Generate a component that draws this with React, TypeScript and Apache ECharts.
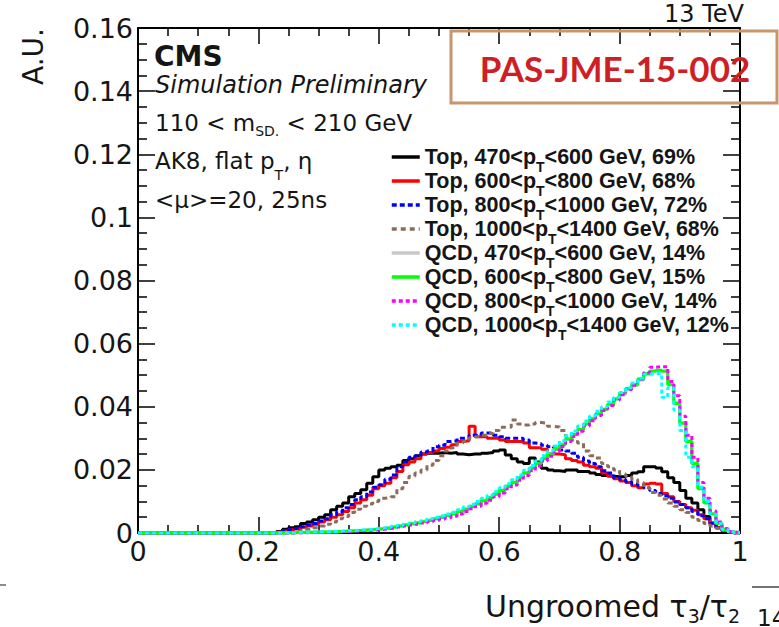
import React, { useEffect, useRef } from "react";
import * as echarts from "echarts";

// Histogram binning of tau3/tau2: 100 bins of width 0.01 on [0, 1]
const BIN_WIDTH = 0.01;
const X_MIN = 0;
const X_MAX = 1;
const Y_MIN = 0;
const Y_MAX = 0.16;

// Top jets, four pT bins
const top470 = [
  0, 0, 0, 0, 0, 0, 0, 0, 0, 0,
  0, 0, 0, 0, 0, 0, 0, 0, 0, 0,
  0, 0, 0, 0.0005, 0.0012, 0.0017, 0.002, 0.003, 0.0035, 0.0042,
  0.005, 0.0058, 0.0074, 0.0085, 0.0095, 0.0115, 0.0125, 0.0137, 0.0158, 0.0178,
  0.02, 0.0205, 0.021, 0.0215, 0.023, 0.0235, 0.0245, 0.025, 0.0253, 0.0253,
  0.0255, 0.0253, 0.0255, 0.025, 0.0248, 0.025, 0.025, 0.0253, 0.0255, 0.026,
  0.0263, 0.0247, 0.0235, 0.0225, 0.022, 0.0238, 0.0225, 0.0205, 0.02, 0.0197,
  0.0195, 0.02, 0.02, 0.0195, 0.0195, 0.019, 0.0185, 0.0182, 0.018, 0.0178,
  0.0178, 0.0182, 0.019, 0.0194, 0.021, 0.021, 0.0206, 0.0194, 0.0175, 0.016,
  0.0135, 0.011, 0.0095, 0.0074, 0.0052, 0.0032, 0.0017, 0.0006, 0.0002, 0,
];
const top600 = [
  0, 0, 0, 0, 0, 0, 0, 0, 0, 0,
  0, 0, 0, 0, 0, 0, 0, 0, 0, 0,
  0, 0, 0, 0.0003, 0.0006, 0.001, 0.0013, 0.0018, 0.0022, 0.0028,
  0.0035, 0.0042, 0.005, 0.0058, 0.0068, 0.008, 0.0095, 0.0105, 0.012, 0.014,
  0.015, 0.0158, 0.0175, 0.0195, 0.0216, 0.0225, 0.0235, 0.025, 0.0255, 0.026,
  0.0268, 0.0272, 0.028, 0.029, 0.0292, 0.0338, 0.0305, 0.0305, 0.03, 0.03,
  0.0295, 0.029, 0.029, 0.029, 0.0285, 0.027, 0.027, 0.0265, 0.025, 0.025,
  0.0248, 0.0235, 0.023, 0.0225, 0.0215, 0.021, 0.0205, 0.019, 0.018, 0.0172,
  0.0165, 0.016, 0.015, 0.0143, 0.0155, 0.0158, 0.0155, 0.0125, 0.0115, 0.01,
  0.009, 0.008, 0.0072, 0.0058, 0.0045, 0.003, 0.0017, 0.0008, 0.0003, 0,
];
const top800 = [
  0, 0, 0, 0, 0, 0, 0, 0, 0, 0,
  0, 0, 0, 0, 0, 0, 0, 0, 0, 0,
  0, 0, 0, 0.0003, 0.0006, 0.001, 0.0014, 0.002, 0.0025, 0.003,
  0.0038, 0.0045, 0.0058, 0.0068, 0.008, 0.009, 0.0105, 0.0115, 0.013, 0.0145,
  0.0153, 0.017, 0.0184, 0.021, 0.0225, 0.024, 0.0245, 0.0257, 0.026, 0.0273,
  0.0278, 0.029, 0.0292, 0.03, 0.03, 0.031, 0.031, 0.0317, 0.0317, 0.031,
  0.0305, 0.03, 0.03, 0.03, 0.0295, 0.0285, 0.0283, 0.0278, 0.0273, 0.027,
  0.0263, 0.026, 0.0253, 0.024, 0.0228, 0.022, 0.021, 0.0197, 0.019, 0.0175,
  0.017, 0.0163, 0.0155, 0.015, 0.0143, 0.0135, 0.0125, 0.0118, 0.011, 0.0098,
  0.009, 0.008, 0.0068, 0.0055, 0.0045, 0.003, 0.0018, 0.0008, 0.0003, 0,
];
const top1000 = [
  0, 0, 0, 0, 0, 0, 0, 0, 0, 0,
  0, 0, 0, 0, 0, 0, 0, 0, 0, 0,
  0, 0, 0, 0, 0, 0, 0.0005, 0.0008, 0.0012, 0.0017,
  0.0022, 0.0028, 0.0035, 0.0045, 0.0052, 0.0065, 0.0075, 0.0085, 0.0092, 0.01,
  0.011, 0.0112, 0.0115, 0.014, 0.016, 0.018, 0.019, 0.02, 0.0215, 0.023,
  0.0245, 0.026, 0.027, 0.0285, 0.029, 0.0302, 0.0305, 0.031, 0.0315, 0.0325,
  0.0335, 0.0335, 0.0358, 0.0345, 0.0342, 0.0345, 0.035, 0.0348, 0.0338, 0.0336,
  0.0325, 0.0305, 0.0295, 0.0285, 0.026, 0.0245, 0.0238, 0.022, 0.021, 0.02,
  0.0188, 0.018, 0.017, 0.016, 0.0143, 0.0128, 0.012, 0.0108, 0.0095, 0.0085,
  0.0074, 0.0065, 0.005, 0.004, 0.003, 0.0022, 0.0015, 0.0008, 0.0003, 0,
];

// QCD jets, four pT bins
const qcd470 = [
  0, 0, 0, 0, 0, 0, 0, 0, 0, 0,
  0, 0, 0, 0, 0, 0, 0, 0, 0, 0,
  0, 0, 0, 0, 0.0001, 0.0001, 0.0001, 0.0002, 0.0002, 0.0003,
  0.0003, 0.0004, 0.0004, 0.0005, 0.0006, 0.0007, 0.0008, 0.001, 0.0011, 0.0012,
  0.0014, 0.0017, 0.0019, 0.0022, 0.0026, 0.0029, 0.0033, 0.0037, 0.0041, 0.0045,
  0.005, 0.0056, 0.0061, 0.0068, 0.0075, 0.0084, 0.0093, 0.0103, 0.0113, 0.0124,
  0.0136, 0.0148, 0.0161, 0.0176, 0.0191, 0.0206, 0.0221, 0.0236, 0.025, 0.0266,
  0.0282, 0.0298, 0.0313, 0.0329, 0.0345, 0.0361, 0.0377, 0.0391, 0.0407, 0.0423,
  0.044, 0.0455, 0.0468, 0.0485, 0.0502, 0.051, 0.0513, 0.051, 0.0472, 0.0415,
  0.035, 0.0292, 0.0222, 0.0145, 0.0098, 0.0062, 0.0031, 0.0012, 0.0005, 0.0001,
];
const qcd600 = [
  0, 0, 0, 0, 0, 0, 0, 0, 0, 0,
  0, 0, 0, 0, 0, 0, 0, 0, 0, 0,
  0, 0, 0, 0, 0.0001, 0.0001, 0.0002, 0.0002, 0.0002, 0.0002,
  0.0003, 0.0003, 0.0004, 0.0005, 0.0006, 0.0007, 0.0008, 0.0009, 0.001, 0.0012,
  0.0014, 0.0016, 0.0019, 0.0022, 0.0025, 0.0029, 0.0032, 0.0036, 0.004, 0.0045,
  0.005, 0.0055, 0.006, 0.0068, 0.0076, 0.0085, 0.0093, 0.0102, 0.0112, 0.0123,
  0.0135, 0.0148, 0.016, 0.0175, 0.019, 0.0205, 0.022, 0.0235, 0.025, 0.0265,
  0.028, 0.0298, 0.0312, 0.0328, 0.0345, 0.0362, 0.0378, 0.0392, 0.0408, 0.0425,
  0.0442, 0.0458, 0.047, 0.0488, 0.0505, 0.0513, 0.0516, 0.0513, 0.047, 0.041,
  0.0348, 0.029, 0.022, 0.014, 0.0095, 0.006, 0.003, 0.0012, 0.0005, 0.0002,
];
const qcd800 = [
  0, 0, 0, 0, 0, 0, 0, 0, 0, 0,
  0, 0, 0, 0, 0, 0, 0, 0, 0, 0,
  0, 0, 0, 0, 0, 0.0001, 0.0001, 0.0001, 0.0002, 0.0002,
  0.0002, 0.0003, 0.0003, 0.0004, 0.0005, 0.0006, 0.0007, 0.0008, 0.0009, 0.001,
  0.0012, 0.0014, 0.0016, 0.0019, 0.0022, 0.0025, 0.0028, 0.0032, 0.0036, 0.004,
  0.0044, 0.0048, 0.0053, 0.006, 0.0068, 0.0077, 0.0085, 0.0094, 0.0104, 0.0115,
  0.0127, 0.014, 0.0152, 0.0167, 0.0182, 0.0197, 0.0212, 0.0228, 0.0243, 0.0258,
  0.0274, 0.029, 0.0306, 0.0322, 0.0339, 0.0356, 0.0372, 0.0388, 0.0404, 0.0421,
  0.0438, 0.0455, 0.0468, 0.0488, 0.0508, 0.0525, 0.0527, 0.0527, 0.048, 0.0435,
  0.037, 0.031, 0.024, 0.016, 0.011, 0.007, 0.0035, 0.0014, 0.0005, 0.0002,
];
const qcd1000 = [
  0, 0, 0, 0, 0, 0, 0, 0, 0, 0,
  0, 0, 0, 0, 0, 0, 0, 0, 0, 0,
  0, 0, 0, 0, 0.0001, 0.0001, 0.0002, 0.0002, 0.0003, 0.0003,
  0.0004, 0.0004, 0.0005, 0.0006, 0.0007, 0.0008, 0.0009, 0.001, 0.0012, 0.0014,
  0.0016, 0.0018, 0.0021, 0.0024, 0.0028, 0.0032, 0.0036, 0.004, 0.0045, 0.005,
  0.0055, 0.006, 0.0066, 0.0074, 0.0082, 0.0091, 0.01, 0.011, 0.012, 0.0131,
  0.0143, 0.0156, 0.0169, 0.0184, 0.0199, 0.0214, 0.0229, 0.0245, 0.026, 0.0276,
  0.0292, 0.0308, 0.0323, 0.0339, 0.0355, 0.0371, 0.0386, 0.04, 0.0415, 0.043,
  0.0445, 0.046, 0.0475, 0.049, 0.0503, 0.0505, 0.0505, 0.043, 0.046, 0.039,
  0.0325, 0.024, 0.021, 0.0145, 0.01, 0.006, 0.003, 0.0012, 0.0004, 0.0001,
];

const PT_RANGES = ["470<p_T<600", "600<p_T<800", "800<p_T<1000", "1000<p_T<1400"];
const TOP_EFF = ["69%", "68%", "72%", "68%"];
const QCD_EFF = ["14%", "15%", "14%", "12%"];

const TOP_COLORS = ["#000000", "#ff0000", "#0000ff", "#8c6d5c"];
const QCD_COLORS = ["#c8c8c8", "#00ff00", "#ff00ff", "#00ffff"];
const TOP_DASH: (string | number[])[] = ["solid", "solid", [5, 3], [5, 4]];
const QCD_DASH: (string | number[])[] = ["solid", "solid", [4, 3], [4, 3]];

const TOP_VALUES = [top470, top600, top800, top1000];
const QCD_VALUES = [qcd470, qcd600, qcd800, qcd1000];

const FONT = "DejaVu Sans";
const TEXT = "#151515";

// histogram bins -> step-line points at the low bin edges, closed at x = 1
function toSteps(vals: number[]) {
  const pts = vals.map((v, i) => [i * BIN_WIDTH, v]);
  pts.push([X_MAX, vals[vals.length - 1]]);
  return pts;
}

function makeSeries(name: string, vals: number[], color: string, dash: string | number[]) {
  return {
    name,
    type: "line",
    step: "end",
    data: toSteps(vals),
    showSymbol: false,
    symbol: "none",
    clip: false,
    lineStyle: { color, width: 3, type: dash },
    itemStyle: { color },
    emphasis: { disabled: true },
  };
}

const topNames = PT_RANGES.map((r, i) => `Top, ${r} GeV, ${TOP_EFF[i]}`);
const qcdNames = PT_RANGES.map((r, i) => `QCD, ${r} GeV, ${QCD_EFF[i]}`);

const series = [
  ...topNames.map((n, i) => makeSeries(n, TOP_VALUES[i], TOP_COLORS[i], TOP_DASH[i])),
  ...qcdNames.map((n, i) => makeSeries(n, QCD_VALUES[i], QCD_COLORS[i], QCD_DASH[i])),
];

const axisCommon = {
  axisLine: { show: true, onZero: false, lineStyle: { color: "#000", width: 2 } },
  splitLine: { show: false },
};
const xTicks = {
  axisTick: { show: true, inside: true, length: 16, lineStyle: { color: "#000", width: 1.5 } },
  minorTick: { show: true, splitNumber: 4, length: 8, lineStyle: { color: "#000", width: 1.5 } },
};
const yTicks = {
  axisTick: { show: true, inside: true, length: 17, lineStyle: { color: "#000", width: 1.5 } },
  minorTick: { show: true, splitNumber: 4, length: 9, lineStyle: { color: "#000", width: 1.5 } },
};
const tickLabel = { show: true, margin: 5, fontFamily: FONT, fontSize: 27, color: TEXT };

function buildOption() {
  return {
    animation: false,
    backgroundColor: "#ffffff",
    grid: { left: 138, top: 28, right: 39, bottom: 94, containLabel: false },
    xAxis: [
      { type: "value", min: X_MIN, max: X_MAX, interval: 0.2, position: "bottom", ...axisCommon, ...xTicks, axisLabel: tickLabel },
      { type: "value", min: X_MIN, max: X_MAX, interval: 0.2, position: "top", ...axisCommon, ...xTicks, axisLabel: { show: false } },
    ],
    yAxis: [
      { type: "value", min: Y_MIN, max: Y_MAX, interval: 0.02, position: "left", ...axisCommon, ...yTicks, axisLabel: tickLabel },
      { type: "value", min: Y_MIN, max: Y_MAX, interval: 0.02, position: "right", ...axisCommon, ...yTicks, axisLabel: { show: false } },
    ],
    legend: {
      orient: "vertical",
      left: 390,
      top: 140,
      padding: 0,
      itemWidth: 28,
      itemHeight: 14,
      itemGap: -10,
      selectedMode: false,
      itemStyle: { opacity: 0 },
      lineStyle: { width: 3.5 },
      data: [...topNames, ...qcdNames],
      formatter: (name: string) => {
        const [a, b] = name.split("p_T");
        return `{t|${a}p}{s|T}{t|${b}}`;
      },
      textStyle: {
        color: TEXT,
        rich: {
          t: { fontFamily: "Liberation Sans", fontWeight: "bold", fontSize: 21.5, lineHeight: 20, color: TEXT },
          s: {
            fontFamily: "Liberation Sans",
            fontWeight: "bold",
            fontSize: 14,
            lineHeight: 20,
            padding: [20, 0, 0, 0],
            color: TEXT,
          },
        },
      },
    },
    graphic: [
      {
        type: "text",
        x: 154,
        y: 56,
        style: { text: "CMS", fontFamily: FONT, fontWeight: "bold", fontSize: 28, fill: TEXT, verticalAlign: "middle" },
      },
      {
        type: "text",
        x: 155,
        y: 85,
        style: {
          text: "Simulation Preliminary",
          fontFamily: FONT,
          fontStyle: "italic",
          fontSize: 24,
          fill: TEXT,
          verticalAlign: "middle",
        },
      },
      {
        type: "text",
        x: 155,
        y: 123,
        style: {
          text: "{a|110 < m}{b|SD.}{a| < 210 GeV}",
          verticalAlign: "middle",
          rich: {
            a: { fontFamily: FONT, fontSize: 23, lineHeight: 26, fill: TEXT },
            b: { fontFamily: FONT, fontSize: 14, lineHeight: 26, padding: [16, 0, 0, 0], fill: TEXT },
          },
        },
      },
      {
        type: "text",
        x: 155,
        y: 161,
        style: {
          text: "{a|AK8, flat p}{b|T}{a|, η}",
          verticalAlign: "middle",
          rich: {
            a: { fontFamily: FONT, fontSize: 23, lineHeight: 26, fill: TEXT },
            b: { fontFamily: FONT, fontSize: 14, lineHeight: 26, padding: [28, 0, 0, 0], fill: TEXT },
          },
        },
      },
      {
        type: "text",
        x: 155,
        y: 200,
        style: { text: "<μ>=20, 25ns", fontFamily: FONT, fontSize: 23, fill: TEXT, verticalAlign: "middle" },
      },
      {
        type: "text",
        x: 744,
        y: 14,
        style: { text: "13 TeV", fontFamily: FONT, fontSize: 24, fill: TEXT, align: "right", verticalAlign: "middle" },
      },
      {
        type: "text",
        x: 33,
        y: 28,
        rotation: Math.PI / 2,
        style: { text: "A.U.", fontFamily: FONT, fontSize: 28, fill: TEXT, align: "right", verticalAlign: "middle" },
      },
      {
        type: "text",
        x: 740,
        y: 606,
        style: {
          text: "{a|Ungroomed τ}{b|3}{a|/τ}{b|2}",
          align: "right",
          verticalAlign: "middle",
          rich: {
            a: { fontFamily: FONT, fontSize: 30, lineHeight: 32, fill: TEXT },
            b: { fontFamily: FONT, fontSize: 19, lineHeight: 32, padding: [20, 0, 0, 0], fill: TEXT },
          },
        },
      },
      {
        type: "rect",
        shape: { x: 451, y: 31, width: 326, height: 72 },
        style: { fill: "none", stroke: "#c8966b", lineWidth: 3 },
        z: 10,
      },
      {
        type: "text",
        x: 615,
        y: 68,
        z: 10,
        style: {
          text: "PAS-JME-15-002",
          fontFamily: "Lato",
          fontWeight: "bold",
          fontSize: 35,
          fill: "#cf1f26",
          align: "center",
          verticalAlign: "middle",
        },
      },
      {
        type: "line",
        shape: { x1: 0, y1: 585, x2: 6, y2: 585 },
        style: { stroke: "#666", lineWidth: 1.5 },
      },
      {
        type: "line",
        shape: { x1: 752, y1: 587, x2: 779, y2: 587 },
        style: { stroke: "#444", lineWidth: 1.5 },
      },
      {
        type: "text",
        x: 757,
        y: 606,
        style: { text: "14", fontFamily: FONT, fontSize: 23, fill: TEXT, verticalAlign: "top" },
      },
    ],
    series,
  };
}

export default function App() {
  const ref = useRef<HTMLDivElement>(null);
  useEffect(() => {
    if (!ref.current) return;
    const chart = echarts.init(ref.current, null, { renderer: "svg" });
    chart.setOption(buildOption() as any);
    return () => chart.dispose();
  }, []);
  return (
    <div
      ref={ref}
      style={{ position: "absolute", left: 0, top: 0, width: 779, height: 627, background: "#ffffff" }}
    />
  );
}
